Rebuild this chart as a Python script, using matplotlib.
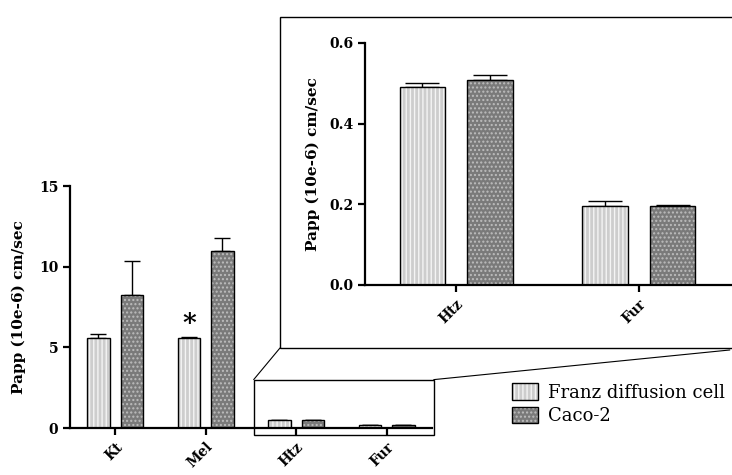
import matplotlib
matplotlib.use("Agg")
import matplotlib.pyplot as plt
import numpy as np
from matplotlib.patches import Patch, Rectangle, ConnectionPatch

plt.rcParams["font.family"] = ["DejaVu Serif"]
plt.rcParams["hatch.linewidth"] = 1.0

# data
all_drugs = ["Kt", "Mel", "Htz", "Fur"]
franz_all = [5.58, 5.58, 0.49, 0.197]
franz_all_err = [0.22, 0.07, 0.012, 0.011]
caco_all = [8.26, 10.97, 0.508, 0.196]
caco_all_err = [2.1, 0.82, 0.013, 0.003]

inset_drugs = ["Htz", "Fur"]
franz_inset = [0.49, 0.197]
franz_inset_err = [0.012, 0.011]
caco_inset = [0.508, 0.196]
caco_inset_err = [0.013, 0.003]

series_names = ["Franz diffusion cell", "Caco-2"]
ylabel = "Papp (10e-6) cm/sec"

FRANZ_FC = "#cdcdcd"
CACO_FC = "#7a7a7a"
WIDTH = 0.25
OFF = 0.185


def hatched_bars(ax, x, h, fc, hatch, hc):
    ax.bar(x, h, WIDTH, color=fc, edgecolor=hc, hatch=hatch, linewidth=0, zorder=2)
    ax.bar(x, h, WIDTH, fill=False, edgecolor="black", linewidth=1.0, zorder=3)


def draw_group(ax, labels, franz, franz_err, caco, caco_err, capsize):
    x = np.arange(len(labels))
    hatched_bars(ax, x - OFF, franz, FRANZ_FC, "||||", "#f4f4f4")
    hatched_bars(ax, x + OFF, caco, CACO_FC, "....", "#bdbdbd")
    ax.errorbar(x - OFF, franz, yerr=[np.zeros(len(x)), franz_err], fmt="none",
                ecolor="black", elinewidth=1.0, capsize=capsize, capthick=1.0, zorder=1)
    ax.errorbar(x + OFF, caco, yerr=[np.zeros(len(x)), caco_err], fmt="none",
                ecolor="black", elinewidth=1.0, capsize=capsize, capthick=1.0, zorder=1)
    ax.set_xticks(x)
    ax.set_xticklabels(labels, rotation=45, ha="right", rotation_mode="anchor",
                       fontweight="bold", fontsize=10)
    ax.set_xlim(-0.5, len(labels) - 0.5)
    for s in ["top", "right"]:
        ax.spines[s].set_visible(False)
    for s in ["left", "bottom"]:
        ax.spines[s].set_linewidth(1.6)
    ax.tick_params(axis="both", width=1.6, length=5, labelsize=10)
    ax.set_ylabel(ylabel, fontweight="bold", fontsize=11)
    return x


fig = plt.figure(figsize=(7.32, 4.75), dpi=100)

# main axes
ax = fig.add_axes([0.0956, 0.0989, 0.4945, 0.5095])
draw_group(ax, all_drugs, franz_all, franz_all_err, caco_all, caco_all_err, capsize=6)
ax.set_ylim(0, 15)
ax.set_yticks([0, 5, 10, 15])
ax.set_yticklabels(["0", "5", "10", "15"], fontweight="bold")
ax.text(1 - OFF, franz_all[1] + 0.15, "*", ha="center", va="bottom",
        fontsize=19, fontweight="bold")

# zoom rectangle
zoom = Rectangle((1.53, -0.43), 1.99, 3.43, fill=False, edgecolor="black",
                 linewidth=1.0, clip_on=False, zorder=4)
ax.add_patch(zoom)

# inset frame
frame = Rectangle((0.3825, 0.2674), 0.62, 0.6968, transform=fig.transFigure,
                  fill=False, edgecolor="black", linewidth=1.0)
fig.patches.append(frame)

# inset axes
ins = fig.add_axes([0.4986, 0.4, 0.4987, 0.5095])
ins.patch.set_alpha(0)
draw_group(ins, inset_drugs, franz_inset, franz_inset_err, caco_inset, caco_inset_err,
           capsize=12)
ins.set_ylim(0, 0.6)
ins.set_yticks([0.0, 0.2, 0.4, 0.6])
ins.set_yticklabels(["0.0", "0.2", "0.4", "0.6"], fontweight="bold")
ins.set_xlim(-0.5, 1.5)
ins.spines["bottom"].set_bounds(-0.5, 1.52)

# connector lines
for xa, ya, xb, yb in [(1.53, 3.0, 0.3825, 0.2674), (3.52, 3.0, 0.997, 0.2632)]:
    con = ConnectionPatch(xyA=(xa, ya), coordsA=ax.transData, xyB=(xb, yb),
                          coordsB=fig.transFigure, color="black", linewidth=0.8)
    fig.add_artist(con)

# legend
handles = [
    (Patch(facecolor=FRANZ_FC, edgecolor="#f4f4f4", hatch="||||", linewidth=0),
     Patch(fill=False, edgecolor="black", linewidth=1.0)),
    (Patch(facecolor=CACO_FC, edgecolor="#bdbdbd", hatch="....", linewidth=0),
     Patch(fill=False, edgecolor="black", linewidth=1.0)),
]
fig.legend(handles, series_names, loc="upper left", bbox_to_anchor=(0.689, 0.208),
           frameon=False, fontsize=13, handlelength=1.45, handleheight=1.0,
           handletextpad=0.55, labelspacing=0.3, borderaxespad=0)

ax.yaxis.set_label_coords(-0.122, 0.5)
ins.yaxis.set_label_coords(-0.123, 0.5)

fig.savefig("out.png", dpi=100)
